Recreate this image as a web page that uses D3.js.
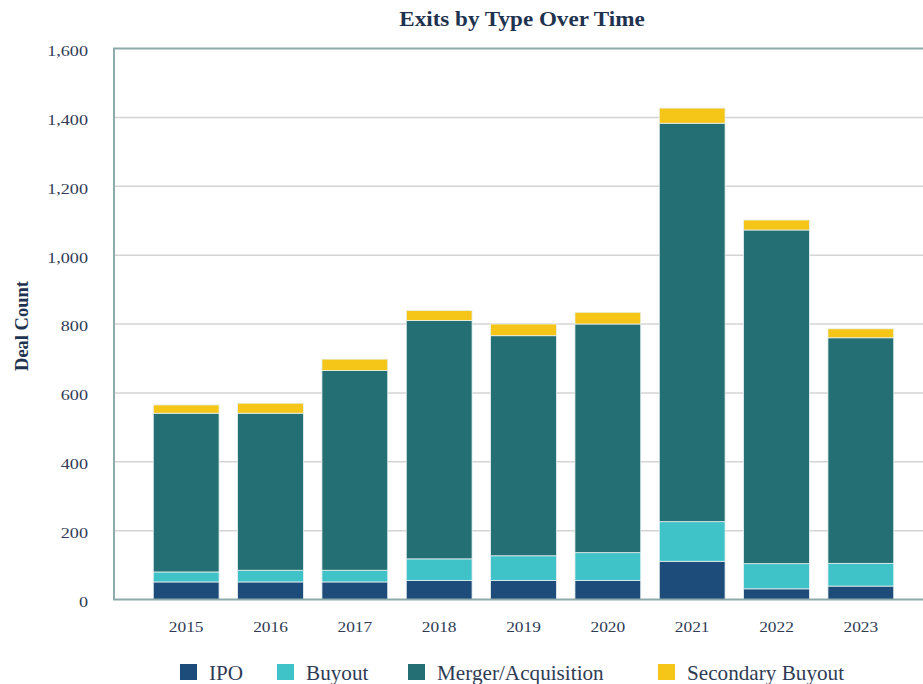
<!DOCTYPE html>
<html>
<meta charset="utf-8">
<style>
body { margin: 0; background: #fff; }
svg text { font-family: "Liberation Serif", "Times New Roman", Times, "DejaVu Serif", serif !important; fill: #2f3b54; }
</style>
<script src="https://d3js.org/d3.v7.min.js"></script>
<body>
<div id="my_dataviz"></div>
<script>
// data
var years = ["2015", "2016", "2017", "2018", "2019", "2020", "2021", "2022", "2023"];
var ipo = [51, 51, 51, 55, 55, 55, 111, 31, 39];
var buyout = [29, 34, 34, 63, 72, 81, 115, 73, 66];
var merger = [461, 456, 580, 692, 639, 664, 1157, 969, 655];
var secondary = [24, 29, 33, 29, 34, 34, 44, 29, 26];
var seriesNames = ["IPO", "Buyout", "Merger/Acquisition", "Secondary Buyout"];
var yTicks = [0, 200, 400, 600, 800, 1000, 1200, 1400, 1600];

var colors = ["#1d4b7a", "#3fc2c8", "#236f73", "#f5c518"];
var serif = "'Liberation Serif', 'Times New Roman', Times, 'DejaVu Serif', serif";

var width = 923, height = 684;
var svg = d3.select("#my_dataviz")
  .append("svg")
    .attr("width", width)
    .attr("height", height);

// build rows for the stack
var rows = years.map(function(y, i) {
  return { year: y, "IPO": ipo[i], "Buyout": buyout[i],
           "Merger/Acquisition": merger[i], "Secondary Buyout": secondary[i] };
});
var stacked = d3.stack().keys(seriesNames)(rows);

var x = d3.scaleBand()
  .domain(years)
  .range([144, 903])
  .paddingInner(0.22)
  .paddingOuter(0.11);

var y = d3.scaleLinear()
  .domain([0, 1600])
  .range([599.5, 48.5]);

// gridlines
svg.append("g")
  .selectAll("line")
  .data(yTicks.slice(1, -1))
  .enter()
  .append("line")
    .attr("x1", 114).attr("x2", width)
    .attr("y1", function(d) { return y(d); })
    .attr("y2", function(d) { return y(d); })
    .attr("stroke", "#d4d4d4")
    .attr("stroke-width", 1.5);

// bars
svg.append("g")
  .selectAll("g")
  .data(stacked)
  .enter()
  .append("g")
    .attr("fill", function(d, i) { return colors[i]; })
  .selectAll("rect")
  .data(function(d) { return d; })
  .enter()
  .append("rect")
    .attr("x", function(d) { return x(d.data.year); })
    .attr("y", function(d) { return y(d[1]); })
    .attr("height", function(d) { return y(d[0]) - y(d[1]); })
    .attr("width", x.bandwidth())
    .attr("stroke", "#e6f0f0")
    .attr("stroke-width", 0.8);

// frame: left, top, bottom
svg.append("path")
  .attr("d", "M" + width + "," + y(1600) + "H114V" + y(0) + "H" + width)
  .attr("fill", "none")
  .attr("stroke", "#8faaaa")
  .attr("stroke-width", 2);

// Y axis labels (the source picture is a bit wide, so stretch text)
var yAxis = svg.append("g")
  .attr("transform", "translate(88,2)")
  .call(d3.axisLeft(y).tickValues(yTicks).tickSize(0).tickPadding(0).tickFormat(d3.format(",")));
yAxis.select(".domain").remove();
yAxis.attr("font-family", null);
yAxis.selectAll("text")
  .style("font-family", serif)
  .attr("font-size", 15.5)
  .attr("transform", "scale(1.17,1)")
  .attr("fill", "#2f3b54");

// X axis labels
var xAxis = svg.append("g")
  .attr("transform", "translate(0,621)")
  .call(d3.axisBottom(x).tickSize(0).tickPadding(0));
xAxis.select(".domain").remove();
xAxis.attr("font-family", null);
xAxis.selectAll("text")
  .style("font-family", serif)
  .attr("font-size", 15.5)
  .attr("transform", "scale(1.12,1)")
  .attr("fill", "#2f3b54");

// title
svg.append("text")
  .attr("transform", "translate(522,26) scale(1.1,1)")
  .attr("text-anchor", "middle")
  .style("font-family", serif)
  .attr("font-size", 21)
  .attr("font-weight", "bold")
  .style("fill", "#1f3350")
  .text("Exits by Type Over Time");

// y axis title
svg.append("text")
  .attr("transform", "translate(28,326) rotate(-90)")
  .attr("text-anchor", "middle")
  .style("font-family", serif)
  .attr("font-size", 18.5)
  .attr("font-weight", "bold")
  .style("fill", "#1f3350")
  .text("Deal Count");

// legend
var legendX = [180, 277, 408, 658];
var legend = svg.append("g")
  .selectAll("g")
  .data(seriesNames)
  .enter()
  .append("g")
    .attr("transform", function(d, i) { return "translate(" + legendX[i] + ",664)"; });
legend.append("rect")
  .attr("width", 17).attr("height", 16)
  .attr("fill", function(d, i) { return colors[i]; });
legend.append("text")
  .attr("transform", "translate(29,16) scale(1.06,1)")
  .style("font-family", serif)
  .attr("font-size", 20)
  .text(function(d) { return d; });
</script>
</body>
</html>
